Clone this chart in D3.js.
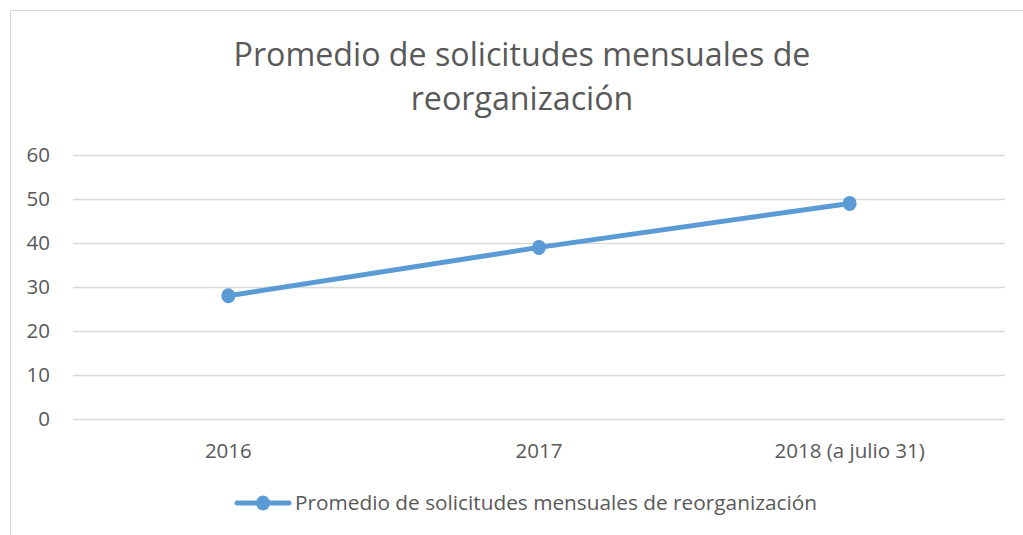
<!DOCTYPE html>
<html>
<head>
<meta charset="utf-8">
<script src="https://cdn.jsdelivr.net/npm/d3@7"></script>
<style>
  body { margin: 0; background: #fff; }
  text { font-family: "Open Sans", sans-serif; fill: #595959; }
</style>
</head>
<body>
<svg id="chart" width="1023" height="535"></svg>
<script>
// data
const categories = ["2016", "2017", "2018 (a julio 31)"];
const values = [28, 39, 49];
const yTicks = [0, 10, 20, 30, 40, 50, 60];
const seriesName = "Promedio de solicitudes mensuales de reorganización";
const titleLines = ["Promedio de solicitudes mensuales de", "reorganización"];

const width = 1023, height = 535;
const margin = {top: 155, right: 18, bottom: 116, left: 73};
const blue = "#5B9BD5";

const svg = d3.select("#chart");

// chart frame (cut off on right/bottom in the reference)
svg.append("path")
    .attr("d", `M10.5,${height} V10.5 H${width}`)
    .attr("fill", "none")
    .attr("stroke", "#d9d9d9")
    .attr("stroke-width", 1);

const x = d3.scaleBand()
    .domain(categories)
    .range([margin.left, width - margin.right]);

const y = d3.scaleLinear()
    .domain([0, 60])
    .range([height - margin.bottom, margin.top]);

// title
svg.append("g")
    .selectAll("text")
        .data(titleLines)
    .enter().append("text")
        .attr("x", 522)
        .attr("y", (d, i) => 66 + i * 44)
        .attr("text-anchor", "middle")
        .style("font-size", "32.2px")
        .text(d => d);

// y axis with gridlines
const yAxis = g => {
    g.attr("transform", `translate(${margin.left},0)`)
        .call(d3.axisLeft(y).tickValues(yTicks).tickSize(-(width - margin.left - margin.right)).tickPadding(23))
        .call(g => g.select(".domain").remove());
    g.selectAll("line")
        .attr("stroke", "#d9d9d9")
        .attr("stroke-width", 1.3);
    g.selectAll("text")
        .style("font-size", "20.5px")
        .attr("fill", "#595959");
};
svg.append("g").call(yAxis);

// x axis labels
const xAxis = g => {
    g.attr("transform", `translate(0,${height - margin.bottom})`)
        .call(d3.axisBottom(x).tickSize(0).tickPadding(24))
        .call(g => g.select(".domain").remove());
    g.selectAll("text")
        .style("font-size", "20.5px")
        .attr("fill", "#595959");
};
svg.append("g").call(xAxis);

// line + markers
const line = d3.line()
    .x((d, i) => x(categories[i]) + x.bandwidth() / 2)
    .y(d => y(d));

svg.append("path")
    .datum(values)
    .attr("fill", "none")
    .attr("stroke", blue)
    .attr("stroke-width", 5)
    .attr("stroke-linecap", "round")
    .attr("d", line);

svg.append("g")
    .selectAll("ellipse")
        .data(values)
    .enter().append("ellipse")
        .attr("cx", (d, i) => x(categories[i]) + x.bandwidth() / 2)
        .attr("cy", d => y(d))
        .attr("rx", 7)
        .attr("ry", 7.5)
        .attr("fill", blue);

// legend
const legend = svg.append("g").attr("transform", "translate(0,503)");
legend.append("line")
    .attr("x1", 237).attr("x2", 289)
    .attr("stroke", blue)
    .attr("stroke-width", 5)
    .attr("stroke-linecap", "round");
legend.append("ellipse")
    .attr("cx", 263)
    .attr("rx", 7)
    .attr("ry", 7.5)
    .attr("fill", blue);
legend.append("text")
    .attr("x", 295)
    .attr("dy", "0.35em")
    .style("font-size", "20.8px")
    .text(seriesName);
</script>
</body>
</html>
